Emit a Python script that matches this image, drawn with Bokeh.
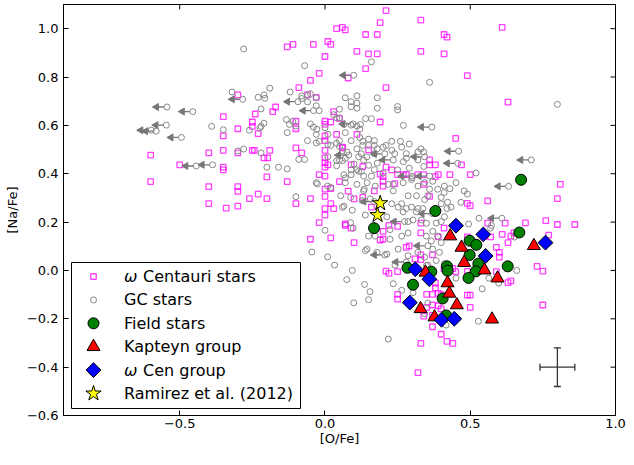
import math
from bokeh.plotting import figure
from bokeh.models import Range1d, FixedTicker, CustomJSTickFormatter, Whisker, TeeHead, ColumnDataSource
from bokeh.core.properties import value
from bokeh.embed import file_html
from bokeh.resources import INLINE

# ---------------- data ----------------
x_ticks = [-0.5, 0.0, 0.5, 1.0]
y_ticks = [-0.6, -0.4, -0.2, 0.0, 0.2, 0.4, 0.6, 0.8, 1.0]

omega_pts = [
    (0.04, 1.0), (0.06, 1.005), (0.07, 0.995),
    (-0.13, 0.925), (-0.11, 0.935), (-0.04, 0.935), (0.01, 0.947), (0.02, 0.935),
    (0.0, 0.885), (-0.02, 0.815), (-0.05, 0.786), (-0.09, 0.756), (-0.03, 0.716), (-0.06, 0.727), (-0.30, 0.726),
    (-0.17, 0.676), (-0.18, 0.657), (-0.24, 0.647), (-0.35, 0.636), (-0.25, 0.614), (-0.25, 0.596), (-0.30, 0.586), (-0.23, 0.566),
    (-0.10, 0.617), (-0.10, 0.586), (0.0, 0.617), (0.0, 0.604), (0.02, 0.614), (0.03, 0.657), (0.04, 0.563), (-0.35, 0.557), (0.0, 0.556), (0.0, 0.537),
    (-0.60, 0.477), (-0.40, 0.486), (-0.35, 0.497), (-0.30, 0.486), (-0.25, 0.497), (-0.243, 0.497), (-0.19, 0.497), (-0.21, 0.466), (-0.197, 0.466),
    (-0.10, 0.507), (-0.08, 0.486), (0.0, 0.497), (0.0, 0.466), (0.0, 0.446), (0.0, 0.427), (0.0, 0.39), (0.01, 0.437), (0.06, 0.51),
    (-0.50, 0.437), (-0.35, 0.427), (-0.35, 0.416), (-0.60, 0.367), (-0.20, 0.387), (-0.13, 0.367), (-0.02, 0.396),
    (-0.40, 0.347), (-0.30, 0.347), (-0.30, 0.327), (-0.26, 0.297), (-0.23, 0.316), (-0.20, 0.297), (-0.40, 0.276), (-0.34, 0.258), (-0.30, 0.266),
    (-0.10, 0.276), (-0.05, 0.297), (0.0, 0.306), (0.02, 0.339), (0.0, 0.336), (0.05, 0.367), (0.0, 0.256), (0.0, 0.229), (0.02, 0.276), (0.03, 0.256),
    (-0.02, 0.198), (0.07, 0.192), (-0.05, 0.129), (0.02, 0.135), (0.13, 0.43),
    (0.21, 1.075), (0.19, 1.025), (0.33, 1.035), (0.14, 0.976), (0.18, 0.976), (0.41, 0.976), (0.42, 0.965), (0.61, 1.005),
    (0.11, 0.906), (0.15, 0.896), (0.18, 0.896), (0.33, 0.906), (0.41, 0.896), (0.14, 0.835), (0.08, 0.796), (0.49, 0.806), (0.21, 0.756), (0.63, 0.696),
    (0.19, 0.614), (0.05, 0.628), (0.11, 0.563), (0.06, 0.507), (0.15, 0.499), (0.45, 0.546), (0.09, 0.438),
    (0.19, 0.398), (0.20, 0.388), (0.21, 0.427), (0.23, 0.416), (0.28, 0.396), (0.36, 0.457), (0.36, 0.437), (0.38, 0.437), (0.34, 0.396), (0.38, 0.388),
    (0.43, 0.396), (0.47, 0.437), (0.50, 0.396),
    (0.08, 0.328), (0.10, 0.296), (0.17, 0.329), (0.20, 0.349), (0.36, 0.306), (0.49, 0.277), (0.50, 0.268), (0.56, 0.288), (0.81, 0.356), (0.80, 0.297),
    (0.76, 0.206), (0.80, 0.19), (0.86, 0.19), (0.69, 0.197), (0.27, 0.396), (0.39, 0.396),
    (0.20, 0.369), (0.24, 0.359), (0.25, 0.396), (0.32, 0.396), (0.34, 0.356), (0.20, 0.162), (0.20, 0.129), (0.25, 0.182), (0.33, 0.196), (0.33, 0.155),
    (0.29, 0.102), (0.33, 0.045), (0.16, 0.262), (0.13, 0.302),
    (0.07, 0.186), (0.09, 0.175), (0.22, 0.186), (0.41, 0.175), (0.10, 0.115), (0.19, 0.126), (0.28, 0.095), (0.39, 0.139), (0.49, 0.139), (0.57, 0.139),
    (0.59, 0.095), (0.60, 0.075), (0.60, 0.055), (0.63, 0.115), (0.64, 0.142), (0.77, 0.146),
    (0.21, -0.003), (0.25, -0.005), (0.22, -0.012), (0.33, 0.064), (0.37, 0.064), (0.31, 0.048), (0.45, -0.005), (0.49, -0.004), (0.59, -0.005),
    (0.64, -0.043), (0.63, -0.05), (0.73, 0.017), (0.75, -0.003),
    (0.25, -0.099), (0.25, -0.119), (0.35, -0.099), (0.37, -0.099), (0.39, -0.095), (0.49, -0.102), (0.50, -0.102), (0.50, -0.153), (0.35, -0.153),
    (0.37, -0.143), (0.75, -0.143), (0.34, -0.189), (0.37, -0.233), (0.40, -0.264), (0.42, -0.293), (0.44, -0.302), (0.33, -0.302), (0.32, -0.423),
    (0.41, 0.008), (0.44, 0.008), (0.40, -0.10), (0.39, -0.146), (0.40, -0.159), (0.37, -0.186), (0.38, -0.072), (0.38, -0.052),
    (0.56, 0.196), (0.62, 0.196), (0.61, 0.149), (0.65, 0.155), (0.55, 0.142),
]

gc_pts = [
    (-0.28, 0.916), (-0.07, 0.847), (-0.32, 0.738), (-0.23, 0.716), (-0.21, 0.726), (-0.19, 0.754), (-0.12, 0.738), (-0.08, 0.722), (-0.06, 0.724),
    (-0.05, 0.731), (-0.08, 0.711), (-0.03, 0.714), (-0.22, 0.668), (-0.03, 0.681), (-0.02, 0.661), (-0.207, 0.712), (-0.06, 0.697),
    (0.05, 0.667), (0.03, 0.644), (0.04, 0.631), (0.05, 0.631), (-0.39, 0.596), (-0.35, 0.582), (-0.26, 0.58), (-0.22, 0.596), (-0.21, 0.609),
    (-0.13, 0.570), (-0.10, 0.597), (-0.05, 0.606), (-0.04, 0.593), (0.0, 0.590), (-0.03, 0.563), (0.01, 0.563),
    (-0.133, 0.624), (-0.122, 0.604), (-0.111, 0.617), (-0.028, 0.584), (0.065, 0.604), (0.122, 0.604), (-0.224, 0.59),
    (-0.06, 0.537), (-0.03, 0.527), (-0.02, 0.534), (0.01, 0.521), (0.02, 0.517), (0.04, 0.526), (0.05, 0.513), (0.06, 0.494), (-0.30, 0.494),
    (-0.28, 0.502), (-0.09, 0.459), (-0.07, 0.459), (-0.20, 0.427), (-0.16, 0.427), (-0.13, 0.42), (-0.22, 0.486),
    (0.01, 0.47), (0.04, 0.454), (0.06, 0.454), (0.04, 0.433), (0.07, 0.383), (-0.03, 0.363), (-0.10, 0.305), (0.02, 0.343), (0.06, 0.261),
    (0.076, 0.49), (0.11, 0.503), (0.116, 0.470), (0.133, 0.457), (0.144, 0.470), (0.133, 0.39),
    (0.16, 0.863), (0.36, 0.778), (0.80, 0.687), (0.07, 0.714), (0.09, 0.698), (0.09, 0.677), (0.11, 0.692), (0.11, 0.671), (0.11, 0.722),
    (0.18, 0.714), (0.18, 0.671), (0.25, 0.678), (0.25, 0.664), (0.14, 0.628), (0.16, 0.628), (0.07, 0.570), (0.11, 0.597), (0.09, 0.601),
    (0.12, 0.584), (0.27, 0.60), (0.05, 0.537), (0.09, 0.537), (0.12, 0.550), (0.13, 0.534), (0.15, 0.543), (0.17, 0.537),
    (0.13, 0.517), (0.15, 0.517), (0.17, 0.517), (0.18, 0.503), (0.20, 0.51), (0.21, 0.517), (0.23, 0.534), (0.26, 0.534), (0.29, 0.523),
    (0.33, 0.503), (0.34, 0.49), (0.125, 0.483), (0.17, 0.483), (0.24, 0.483), (0.28, 0.483),
    (0.05, 0.457), (0.07, 0.464), (0.10, 0.44), (0.11, 0.417), (0.15, 0.435), (0.17, 0.417), (0.18, 0.444), (0.27, 0.45), (0.28, 0.464),
    (0.32, 0.49), (0.32, 0.457), (0.34, 0.43), (0.264, 0.51), (0.23, 0.497),
    (0.065, 0.396), (0.09, 0.416), (0.125, 0.41), (0.16, 0.39), (0.20, 0.403), (0.25, 0.416), (0.29, 0.423), (0.52, 0.403),
    (0.07, 0.363), (0.11, 0.356), (0.054, 0.309), (0.088, 0.302), (0.065, 0.266), (0.094, 0.249),
    (0.145, 0.363), (0.173, 0.349), (0.133, 0.329), (0.156, 0.296), (0.218, 0.356), (0.235, 0.329), (0.269, 0.363), (0.298, 0.376), (0.32, 0.349),
    (0.343, 0.363), (0.371, 0.369), (0.388, 0.336), (0.411, 0.349), (0.451, 0.363), (0.479, 0.329), (0.286, 0.309), (0.315, 0.309), (0.354, 0.309),
    (0.4, 0.302), (0.422, 0.282), (0.434, 0.262), (0.468, 0.282), (0.49, 0.316), (0.23, 0.276), (0.252, 0.262), (0.269, 0.242), (0.298, 0.262),
    (0.315, 0.242), (0.337, 0.256), (0.286, 0.202), (0.303, 0.209), (0.332, 0.209), (0.349, 0.195), (0.4, 0.202), (0.411, 0.222), (0.139, 0.229),
    (0.213, 0.222), (0.224, 0.169), (0.15, 0.142), (0.173, 0.142), (0.224, 0.129), (0.264, 0.142), (0.286, 0.155), (0.349, 0.142), (0.371, 0.162),
    (0.388, 0.142), (0.366, 0.122), (0.4, 0.115), (0.145, 0.088), (0.179, 0.075), (0.213, 0.068), (0.252, 0.088), (0.286, 0.061), (0.32, 0.075),
    (0.343, 0.055), (0.371, 0.088), (0.394, 0.075), (0.241, 0.022), (0.286, 0.022), (0.354, 0.022), (0.411, 0.028),
    (0.30, 0.383), (0.36, 0.336), (0.41, 0.322), (0.43, 0.338), (0.135, 0.336), (0.235, 0.356), (0.264, 0.276), (0.28, 0.256), (0.32, 0.256),
    (0.343, 0.293), (0.40, 0.276), (0.42, 0.256), (0.128, 0.289),
    (-0.026, 0.358), (0.009, 0.349), (0.09, 0.396), (0.116, 0.41), (0.088, 0.198), (0.097, 0.175), (0.0, 0.166), (-0.045, 0.076), (0.009, 0.056),
    (0.033, 0.022), (0.075, -0.038), (0.139, 0.082), (0.094, 0.0), (0.099, -0.134), (0.15, -0.121), (0.155, -0.088), (0.136, -0.058),
    (0.218, -0.284), (0.235, -0.055), (0.264, -0.082), (0.303, -0.092), (0.343, -0.179), (0.354, -0.135), (0.417, -0.226), (0.528, -0.210),
    (0.541, -0.076), (0.66, 0.0), (0.598, -0.052), (0.451, -0.032), (0.564, -0.032), (0.349, 0.02), (0.371, 0.0), (0.383, 0.041),
    (0.494, 0.192), (0.57, 0.175), (0.573, 0.186), (0.652, 0.138), (0.383, 0.196), (0.53, 0.216),
]

# GC stars with upper limits in [O/Fe]
gc_lim_pts = [
    (-0.544, 0.676), (-0.455, 0.657), (-0.546, 0.601), (-0.598, 0.580), (-0.581, 0.576), (-0.494, 0.550), (-0.387, 0.437), (-0.443, 0.432),
    (-0.283, 0.708), (-0.093, 0.698), (-0.039, 0.661), (0.099, 0.807), (0.097, 0.606), (0.082, 0.477), (0.368, 0.593), (0.460, 0.493),
    (0.457, 0.443), (0.710, 0.457), (0.632, 0.348), (0.609, 0.216), (0.343, 0.470), (0.235, 0.457), (0.206, 0.482), (0.17, 0.285),
    (0.274, 0.202), (0.354, 0.102), (0.206, 0.064), (0.36, 0.39), (0.30, 0.39), (0.37, 0.235), (0.28, 0.035),
]

field_pts = [
    (0.675, 0.375), (0.38, 0.246), (0.169, 0.175), (0.669, 0.157), (0.498, 0.123), (0.521, 0.106), (0.498, 0.064), (0.284, 0.011),
    (0.366, -0.005), (0.420, 0.017), (0.422, -0.001), (0.528, 0.028), (0.519, -0.004), (0.494, -0.031), (0.629, 0.017), (0.303, -0.059),
    (0.405, -0.116), (0.417, -0.186),
]

kapteyn_pts = [
    (0.431, 0.142), (0.470, 0.095), (0.479, 0.032), (0.549, 0.001), (0.594, -0.032), (0.719, 0.102), (0.346, -0.008), (0.422, -0.052),
    (0.428, -0.095), (0.454, -0.143), (0.329, -0.159), (0.377, -0.193), (0.575, -0.202),
]

wcen_group_pts = [
    (0.451, 0.185), (0.545, 0.149), (0.759, 0.115), (0.553, 0.060), (0.311, 0.005), (0.359, -0.036), (0.292, -0.133), (0.401, -0.204),
    (0.445, -0.200),
]

ramirez_pts = [(0.190, 0.278), (0.181, 0.229)]

# typical error bar
err_x = [0.8]
err_y = [-0.4]
err_dx = [0.06]
err_dy = [0.08]

labels = ["\u03c9 Centauri stars", "GC stars", "Field stars", "Kapteyn group", "\u03c9 Cen group", "Ramirez et al. (2012)"]

# ---------------- layout / styles ----------------
FONT = "DejaVu Sans"
X0, X1, Y0, Y1 = -0.9, 1.0, -0.6, 1.1
W, H = 626, 449
B_LEFT, B_RIGHT, B_TOP, B_BOTTOM = 63, 11, 4, 34
FRAME_W = W - B_LEFT - B_RIGHT
FRAME_H = H - B_TOP - B_BOTTOM
SX = (X1 - X0) / FRAME_W      # data units per pixel
SY = (Y1 - Y0) / FRAME_H
TICK = 5                      # inner tick length, px

GRAY = "#888888"
ARROW_GRAY = "#777777"
ERR_COLOR = "#333333"
CIRCLE_EDGE = 3 * SX
ARROW_BASE = 12 * SX
HEAD_CENTER = 10.5 * SX

STYLES = [
    dict(marker="square", size=5.5, fill_color=None, line_color="#ff00ff", line_alpha=0.75, line_width=1.3),
    dict(marker="circle", size=6, fill_color=None, line_color=GRAY, line_width=1.0),
    dict(marker="circle", size=11, fill_color="#008000", line_color="black", line_width=1),
    dict(marker="triangle", size=13, fill_color="#ff0000", line_color="black", line_width=1),
    dict(marker="square", size=10.5, angle=math.pi / 4, fill_color="#0000ff", line_color="black", line_width=1),
    dict(marker="star", size=16, fill_color="#ffff00", line_color="black", line_width=1),
]


def xs(pts):
    return [q[0] for q in pts]


def ys(pts):
    return [q[1] for q in pts]


def fx(px):
    return X0 + px * SX


def fy(py):
    return Y0 + py * SY


p = figure(width=W, height=H, x_range=Range1d(X0, X1), y_range=Range1d(Y0, Y1),
           output_backend="svg", toolbar_location=None,
           min_border_left=B_LEFT, min_border_right=B_RIGHT, min_border_top=B_TOP, min_border_bottom=B_BOTTOM)
p.grid.visible = False
p.outline_line_color = "black"
p.outline_line_width = 1

fmt = CustomJSTickFormatter(code="return tick.toFixed(1).replace('-', '\\u2212');")
p.xaxis.ticker = FixedTicker(ticks=x_ticks)
p.yaxis.ticker = FixedTicker(ticks=y_ticks)
p.xaxis.formatter = fmt
p.yaxis.formatter = fmt
p.xaxis.axis_label = "[O/Fe]"
p.yaxis.axis_label = "[Na/Fe]"
for ax in (p.xaxis[0], p.yaxis[0]):
    ax.major_tick_in = TICK
    ax.major_tick_out = 0
    ax.minor_tick_in = 0
    ax.minor_tick_out = 0
    ax.axis_line_color = "black"
    ax.major_tick_line_color = "black"
    ax.major_label_text_font = FONT
    ax.major_label_text_font_size = "13px"
    ax.major_label_text_color = "black"
    ax.axis_label_text_font = FONT
    ax.axis_label_text_font_size = "13px"
    ax.axis_label_text_font_style = "normal"
    ax.axis_label_text_color = "black"
p.xaxis.major_label_standoff = 3
p.xaxis.axis_label_standoff = 0
p.yaxis.major_label_standoff = 5
p.yaxis.axis_label_standoff = 4

# mirror ticks on top and right edges
p.segment(x0=x_ticks, y0=[Y1] * len(x_ticks), x1=x_ticks, y1=[Y1 - TICK * SY] * len(x_ticks),
          line_color="black", line_width=1)
p.segment(x0=[X1] * len(y_ticks), y0=y_ticks, x1=[X1 - TICK * SX] * len(y_ticks), y1=y_ticks,
          line_color="black", line_width=1)

# omega Centauri stars
p.scatter(xs(omega_pts), ys(omega_pts), **STYLES[0])

# GC stars (incl. upper limits)
p.scatter(xs(gc_pts) + xs(gc_lim_pts), ys(gc_pts) + ys(gc_lim_pts), **STYLES[1])

# upper-limit arrows
lim_x = xs(gc_lim_pts)
lim_y = ys(gc_lim_pts)
p.segment(x0=[v - CIRCLE_EDGE for v in lim_x], y0=lim_y, x1=[v - ARROW_BASE for v in lim_x], y1=lim_y,
          line_color=ARROW_GRAY, line_width=1.3)
p.scatter([v - HEAD_CENTER for v in lim_x], lim_y, marker="triangle", size=7, angle=math.pi / 2,
          fill_color=ARROW_GRAY, line_color=ARROW_GRAY, line_width=1)

# typical error bar
esrc = ColumnDataSource(dict(x=err_x, y=err_y,
                             xl=[a - b for a, b in zip(err_x, err_dx)], xu=[a + b for a, b in zip(err_x, err_dx)],
                             yl=[a - b for a, b in zip(err_y, err_dy)], yu=[a + b for a, b in zip(err_y, err_dy)]))
for base, lo, hi, dim in (("y", "xl", "xu", "width"), ("x", "yl", "yu", "height")):
    p.add_layout(Whisker(source=esrc, base=base, lower=lo, upper=hi, dimension=dim, line_color=ERR_COLOR, line_width=1.3,
                         lower_head=TeeHead(size=7, line_color=ERR_COLOR, line_width=1.3),
                         upper_head=TeeHead(size=7, line_color=ERR_COLOR, line_width=1.3)))

p.scatter(xs(field_pts), ys(field_pts), **STYLES[2])
p.scatter(xs(kapteyn_pts), ys(kapteyn_pts), **STYLES[3])
p.scatter(xs(wcen_group_pts), ys(wcen_group_pts), **STYLES[4])
p.scatter(xs(ramirez_pts), ys(ramirez_pts), **STYLES[5])

# ---------------- legend (drawn on top of the data) ----------------
LEG_L, LEG_R, LEG_B, LEG_T = 8, 237, 7, 153
ROW0, ROW_STEP = 139, 23.4
MARK_X, TEXT_X, OMEGA_GAP = 30, 60.5, 19

p.quad(left=[fx(LEG_L)], right=[fx(LEG_R)], bottom=[fy(LEG_B)], top=[fy(LEG_T)],
       fill_color="white", line_color="black", line_width=1)
for i, (lab, st) in enumerate(zip(labels, STYLES)):
    cy = fy(ROW0 - i * ROW_STEP)
    p.scatter([fx(MARK_X)], [cy], **st)
    if lab.startswith("\u03c9 "):
        p.text(x=[fx(TEXT_X)], y=[cy], text=["\u03c9"], text_font=value(FONT), text_font_size="16px",
               text_font_style="italic", text_baseline="middle", text_align="left", text_color="black")
        p.text(x=[fx(TEXT_X + OMEGA_GAP)], y=[cy], text=[lab[2:]], text_font=value(FONT), text_font_size="16px",
               text_baseline="middle", text_align="left", text_color="black")
    else:
        p.text(x=[fx(TEXT_X)], y=[cy], text=[lab], text_font=value(FONT), text_font_size="16px",
               text_baseline="middle", text_align="left", text_color="black")

open("out.html", "w").write(file_html(p, INLINE))
